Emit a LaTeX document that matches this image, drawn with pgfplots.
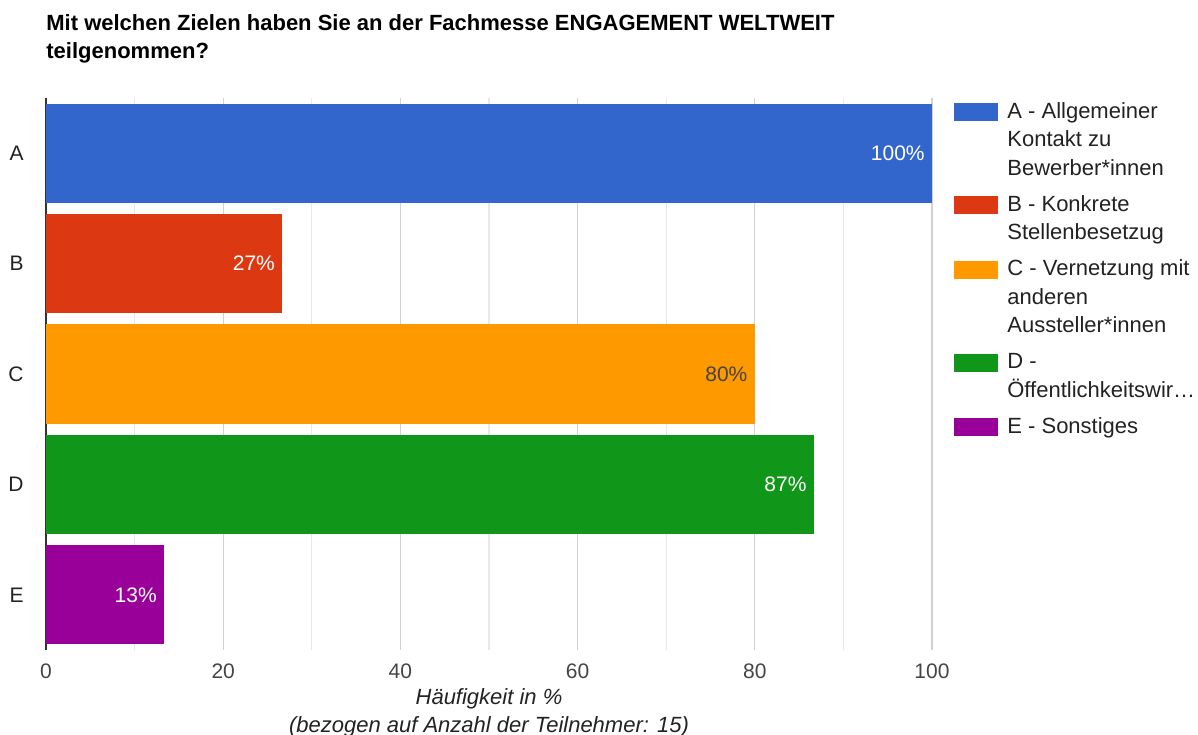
\documentclass[border=0pt]{standalone}
\usepackage{pgfplots}
\pgfplotsset{compat=1.18}
\usepackage{fontspec}
\setmainfont{Liberation Sans}
\definecolor{cA}{HTML}{3366CC}
\definecolor{cB}{HTML}{DC3912}
\definecolor{cC}{HTML}{FF9900}
\definecolor{cD}{HTML}{109618}
\definecolor{cE}{HTML}{990099}
\definecolor{txt}{HTML}{222222}
\definecolor{ticktxt}{HTML}{444444}
\newcommand{\lgtext}[1]{\fontsize{11}{14.25}\selectfont\begin{tabular}[t]{@{}l@{}}#1\end{tabular}}
\pgfplotsset{lgbox/.style={legend image code/.code={\fill[#1,draw=none] (0pt,-1.5pt) rectangle (22pt,7.5pt);}}}

\begin{document}
\begin{tikzpicture}
\path[use as bounding box] (-23pt,-42pt) rectangle (576pt,325pt);
\node[anchor=base west, inner sep=0pt, font=\bfseries\fontsize{11}{14}\selectfont]
  at (0pt,309.75pt) {Mit welchen Zielen haben Sie an der Fachmesse ENGAGEMENT WELTWEIT};
\node[anchor=base west, inner sep=0pt, font=\bfseries\fontsize{11}{14}\selectfont]
  at (0pt,295.5pt) {teilgenommen?};
\begin{axis}[
    at={(0,0)}, anchor=south west,
    scale only axis, width=443pt, height=276pt,
    xbar, bar width=0.9, bar shift=0pt,
    xmin=0, xmax=100, ymin=-0.5, ymax=4.5, y dir=reverse,
    xtick={0,20,...,100}, minor xtick={10,30,...,90},
    ytick={0,...,4}, yticklabels={A,B,C,D,E},
    xmajorgrids, xminorgrids,
    major grid style={draw=black!18, line width=0.6pt},
    minor grid style={draw=black!9, line width=0.6pt},
    extra x ticks={0}, extra x tick labels={},
    extra x tick style={major grid style={draw=black!80, line width=0.8pt}},
    axis line style={draw=none}, major tick length=0pt, minor tick length=0pt,
    /pgf/number format/assume math mode=true,
    xticklabel style={font=\fontsize{10.5}{12}\selectfont, text=ticktxt, anchor=base, inner sep=0pt, yshift=-14pt},
    yticklabel style={font=\fontsize{10.5}{12}\selectfont, text=txt, anchor=east, inner sep=0pt, xshift=-11pt},
    xlabel={Häufigkeit in \%\\(bezogen auf Anzahl der Teilnehmer: 15)},
    xlabel style={font=\itshape\fontsize{11}{14}\selectfont, text=txt, align=center, anchor=base,
        at={(axis description cs:0.5,0)}, yshift=-41pt, inner sep=0pt},
    point meta=x,
    nodes near coords={\pgfmathprintnumber[fixed,precision=0]{\pgfplotspointmeta}\%},
    nodes near coords style={anchor=east, font=\fontsize{10.5}{12}\selectfont, xshift=-3.5pt, inner sep=0pt},
    legend style={at={(axis description cs:1.0248,1)}, anchor=north west, draw=none, fill=none,
        inner sep=0pt, row sep=3.75pt, column sep=4.5pt,
        nodes={inner sep=0pt, text depth=, text=txt}, cells={anchor=base west}},
]
\addplot[fill=cA, draw=none, lgbox, every node near coord/.append style={text=white}] coordinates {(100,0)};
\addlegendentry{\lgtext{A - Allgemeiner\\Kontakt zu\\Bewerber*innen}}
\addplot[fill=cB, draw=none, lgbox, every node near coord/.append style={text=white}] coordinates {(26.67,1)};
\addlegendentry{\lgtext{B - Konkrete\\Stellenbesetzug}}
\addplot[fill=cC, draw=none, lgbox, every node near coord/.append style={text=ticktxt}] coordinates {(80,2)};
\addlegendentry{\lgtext{C - Vernetzung mit\\anderen\\Aussteller*innen}}
\addplot[fill=cD, draw=none, lgbox, every node near coord/.append style={text=white}] coordinates {(86.67,3)};
\addlegendentry{\lgtext{D -\\Öffentlichkeitswir…}}
\addplot[fill=cE, draw=none, lgbox, every node near coord/.append style={text=white}] coordinates {(13.33,4)};
\addlegendentry{\lgtext{E - Sonstiges}}
\end{axis}
\end{tikzpicture}
\end{document}
